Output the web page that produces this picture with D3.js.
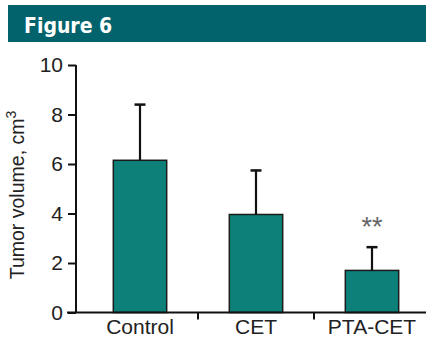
<!DOCTYPE html>
<html>
<head>
<meta charset="utf-8">
<script src="https://cdn.jsdelivr.net/npm/d3@7"></script>
<style>
  body { margin: 0; background: #fff; }
  svg { display: block; font-family: "Liberation Sans", Arial, sans-serif; }
</style>
</head>
<body>
<div id="chart"></div>
<script>
// groups, means and upper error (mean + SD)
const groups = ["Control", "CET", "PTA-CET"];
const means = [6.15, 3.96, 1.7];
const errTops = [8.4, 5.74, 2.64];
const marks = ["", "", "**"];
const yTicks = [0, 2, 4, 6, 8, 10];

(function () {
  const W = 426, H = 337;
  const svg = d3.select("#chart").append("svg").attr("width", W).attr("height", H);

  // header banner
  svg.append("rect").attr("x", 8).attr("y", 5).attr("width", W - 8).attr("height", 37).attr("fill", "#03636c");
  svg.append("text")
    .attr("x", 24).attr("y", 33)
    .attr("fill", "#fff")
    .attr("font-family", "'Liberation Sans Narrow', 'DejaVu Sans Condensed', sans-serif")
    .attr("font-weight", "bold")
    .attr("font-size", "21px")
    .text("Figure 6");

  const x = d3.scaleBand().domain(groups).range([82, 430]).padding(0);
  const y = d3.scaleLinear().domain([0, 10]).range([312.5, 65]);
  const barW = x.bandwidth() * 0.46;
  const cx = (d) => x(d) + x.bandwidth() / 2;

  const g = svg.append("g");

  // bars
  g.selectAll(".bar").data(groups).join("rect")
    .attr("class", "bar")
    .attr("x", (d) => cx(d) - barW / 2)
    .attr("y", (d, i) => y(means[i]))
    .attr("width", barW)
    .attr("height", (d, i) => y(0) - y(means[i]))
    .attr("fill", "#0e807a")
    .attr("stroke", "#1a1a1a")
    .attr("stroke-width", 1.5);

  // error bars (upper only)
  g.selectAll(".err").data(groups).join("line")
    .attr("x1", cx).attr("x2", cx)
    .attr("y1", (d, i) => y(means[i]))
    .attr("y2", (d, i) => y(errTops[i]))
    .attr("stroke", "#111").attr("stroke-width", 2.2);
  g.selectAll(".cap").data(groups).join("line")
    .attr("x1", (d) => cx(d) - 5.5).attr("x2", (d) => cx(d) + 5.5)
    .attr("y1", (d, i) => y(errTops[i]))
    .attr("y2", (d, i) => y(errTops[i]))
    .attr("stroke", "#111").attr("stroke-width", 2.5);

  // significance marks
  g.selectAll(".sig").data(groups).join("text")
    .attr("x", cx)
    .attr("y", (d, i) => y(errTops[i]) - 11)
    .attr("text-anchor", "middle")
    .attr("font-size", "27px")
    .attr("fill", "#666")
    .text((d, i) => marks[i]);

  // y axis
  const yAxis = svg.append("g")
    .attr("transform", "translate(76,0)")
    .call(d3.axisLeft(y).tickValues(yTicks).tickSize(8).tickPadding(5));
  yAxis.select(".domain").attr("stroke", "#111").attr("stroke-width", 2).attr("d", `M0,${y(10)}V${y(0)}`);
  yAxis.selectAll(".tick line").attr("stroke", "#111").attr("stroke-width", 2);
  yAxis.selectAll(".tick text").attr("font-size", "21px").attr("fill", "#222")
    .attr("font-family", "'Liberation Sans', Arial, sans-serif");

  // x axis
  svg.append("line")
    .attr("x1", 67).attr("x2", W).attr("y1", y(0)).attr("y2", y(0))
    .attr("stroke", "#111").attr("stroke-width", 2);
  const xAxis = svg.append("g")
    .attr("transform", `translate(0,${y(0)})`)
    .call(d3.axisBottom(x).tickSize(0).tickPadding(7));
  xAxis.select(".domain").remove();
  xAxis.selectAll(".tick text").attr("font-size", "21px").attr("fill", "#222")
    .attr("font-family", "'Liberation Sans', Arial, sans-serif");
  // separators between groups
  svg.selectAll(".sep").data(groups.slice(1)).join("line")
    .attr("x1", (d) => x(d)).attr("x2", (d) => x(d))
    .attr("y1", y(0)).attr("y2", y(0) + 7)
    .attr("stroke", "#111").attr("stroke-width", 2);

  // y label
  svg.append("text")
    .attr("transform", "translate(24,195) rotate(-90)")
    .attr("text-anchor", "middle")
    .attr("font-size", "19.5px")
    .attr("fill", "#222")
    .html("Tumor volume, cm<tspan dy='-8' font-size='14px'>3</tspan>");
})();
</script>
</body>
</html>
